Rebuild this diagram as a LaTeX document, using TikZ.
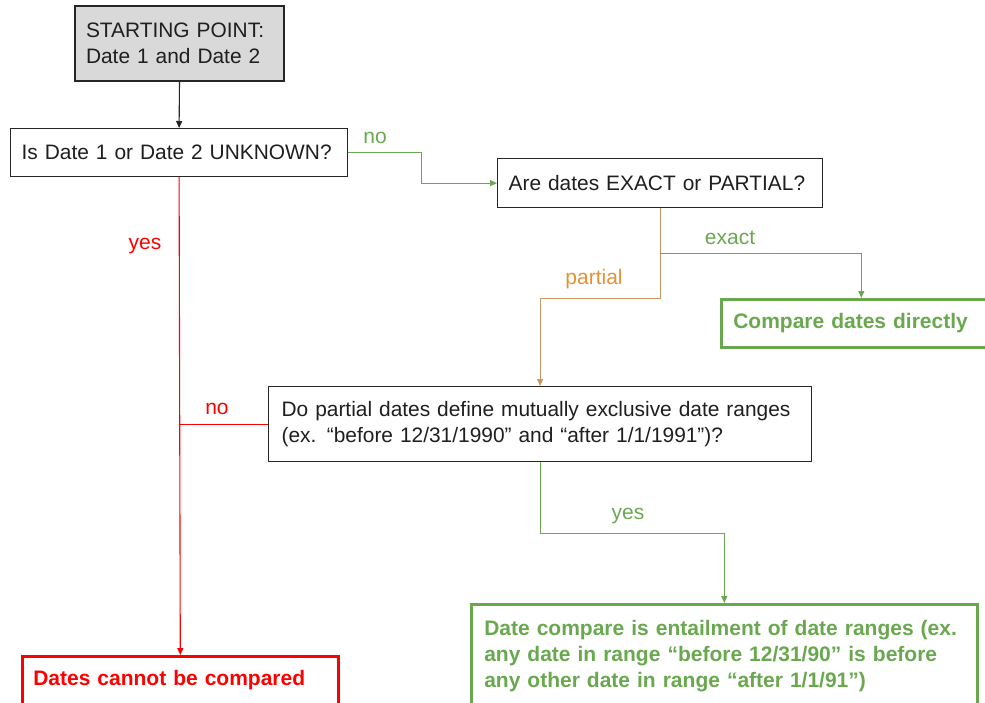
\documentclass[tikz,border=0pt]{standalone}
\usepackage{fontspec}
\setmainfont{Liberation Sans}
\usetikzlibrary{arrows.meta}
\definecolor{okgreen}{HTML}{6AA84F}
\definecolor{nored}{HTML}{FF0000}
\definecolor{partorange}{HTML}{E69138}
\definecolor{partline}{HTML}{C9975F}
\definecolor{startgrey}{HTML}{D9D9D9}
\begin{document}
\begin{tikzpicture}[x=1pt,y=-1pt,
  box/.style={draw=black!85, line width=1.2pt, anchor=north west, inner xsep=11pt,
    inner ysep=0pt, align=left, font=\fontsize{20.9}{26.5}\selectfont, text=black!88},
  result/.style={box, line width=2.6pt, font=\bfseries\fontsize{21}{26}\selectfont},
  link/.style={line width=1.1pt, -{Triangle[length=7pt,width=6pt]}},
  lbl/.style={font=\fontsize{21}{24}\selectfont, inner sep=0pt}]
\useasboundingbox (0,0) rectangle (985,702);
\begin{scope}
\clip (0,0) rectangle (985,702);

% decision boxes
\node[box, fill=startgrey, line width=2pt, text width=187pt, minimum height=75pt]
  (start) at (74,5) {STARTING POINT:\\Date 1 and Date 2};
\node[box, text width=315pt, minimum height=48pt] (unknown) at (10,128)
  {Is Date 1 or Date 2 UNKNOWN?};
\node[box, text width=303pt, minimum height=49pt] (kind) at (497,158)
  {Are dates EXACT or PARTIAL?};
\node[box, inner xsep=13pt, text width=517pt, minimum height=75pt] (ranges) at (268,386)
  {Do partial dates define mutually exclusive date ranges\\(ex. “before 12/31/1990” and “after 1/1/1991”)?};

% outcome boxes
\node[result, draw=okgreen, text=okgreen, inner xsep=12pt, text width=256pt,
  minimum height=48pt] (direct) at (720,298) {Compare dates directly};
\node[result, draw=okgreen, text=okgreen, inner xsep=13pt, text width=480pt,
  minimum height=104pt] (entail) at (470,603)
  {Date compare is entailment of date ranges (ex.\\any date in range “before 12/31/90” is before\\any other date in range “after 1/1/91”)};
\node[result, draw=nored, text=nored, text width=294pt, minimum height=48pt]
  (fail) at (21,655) {Dates cannot be compared};

% connectors
\draw[link, black!85] (start.south) -- (unknown.north);
\draw[link, okgreen] (unknown.east) -- ++(73,0) |- (kind.west);
\draw[link, nored] (unknown.south) -- (fail.north);
\draw[link, partline] (kind.south) -- ++(0,90) -| (ranges.north);
\draw[link, okgreen] (kind.south) ++(0,45) -| (direct.north);
\draw[nored, line width=1.1pt] (ranges.west) -- (ranges.west -| unknown.south);
\draw[link, okgreen] (ranges.south) -- ++(0,71) -| (entail.north);

% branch labels
\node[lbl, text=okgreen] (lno) at (375,138) {no};
\node[lbl, text=nored] (lyes) at (145,246) {yes};
\node[lbl, text=okgreen] (lexact) at (730,238) {exact};
\node[lbl, text=partorange] (lpartial) at (594,279) {partial};
\node[lbl, text=nored] (lno2) at (217,409) {no};
\node[lbl, text=okgreen] (lyes2) at (628,516) {yes};
\end{scope}
\end{tikzpicture}
\end{document}
